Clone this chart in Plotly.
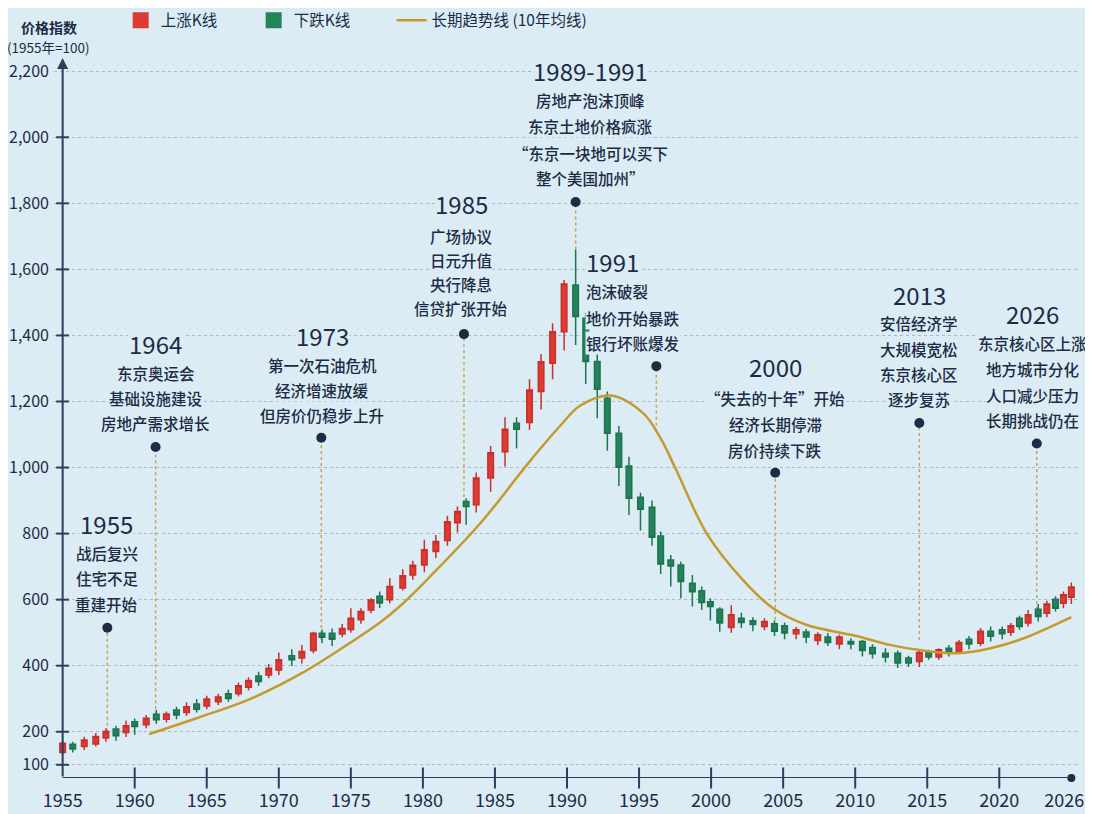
import plotly.graph_objects as go

# Candle data (price index, 1955 = 100)
years = [1955.0, 1955.7, 1956.5, 1957.3, 1958.0, 1958.7, 1959.4, 1960.0, 1960.8, 1961.5,
         1962.2, 1962.9, 1963.6, 1964.3, 1965.0, 1965.8, 1966.5, 1967.2, 1967.9, 1968.6,
         1969.3, 1970.0, 1970.9, 1971.6, 1972.4, 1973.0, 1973.7, 1974.4, 1975.0, 1975.7,
         1976.4, 1977.0, 1977.7, 1978.6, 1979.3, 1980.1, 1980.9, 1981.7, 1982.4, 1983.0,
         1983.7, 1984.7, 1985.7, 1986.5, 1987.4, 1988.2, 1989.0, 1989.8, 1990.6, 1991.3,
         1992.1, 1992.8, 1993.6, 1994.3, 1995.1, 1995.9, 1996.5, 1997.2, 1997.9, 1998.7,
         1999.35, 1999.95, 2000.6, 2001.4, 2002.1, 2002.9, 2003.7, 2004.4, 2005.1, 2005.9,
         2006.6, 2007.4, 2008.1, 2008.9, 2009.7, 2010.5, 2011.2, 2012.1, 2012.95, 2013.7,
         2014.45, 2015.1, 2015.8, 2016.5, 2017.2, 2017.9, 2018.7, 2019.4, 2020.2, 2020.8,
         2021.4, 2022.0, 2022.7, 2023.3, 2023.9, 2024.45, 2025.0]
opens = [137, 162, 155, 163, 181, 208, 198, 230, 221, 253,
         238, 266, 258, 284, 278, 291, 315, 315, 335, 369,
         372, 387, 430, 423, 446, 498, 498, 496, 510, 539,
         569, 610, 600, 635, 675, 705, 746, 779, 833, 897,
         887, 968, 1048, 1134, 1136, 1230, 1316, 1411, 1553, 1452,
         1321, 1210, 1104, 1005, 910, 880, 793, 720, 705, 650,
         627, 594, 571, 516, 544, 536, 519, 527, 521, 497,
         502, 476, 487, 466, 473, 473, 455, 438, 438, 423,
         413, 440, 426, 453, 443, 480, 468, 504, 509, 501,
         544, 529, 571, 559, 601, 589, 607]
highs = [175, 170, 185, 196, 211, 218, 234, 240, 251, 266,
         261, 276, 289, 299, 309, 315, 327, 349, 365, 382,
         405, 440, 450, 463, 503, 510, 513, 526, 574, 574,
         604, 625, 665, 692, 718, 781, 796, 854, 882, 907,
         985, 1065, 1152, 1152, 1267, 1344, 1437, 1568, 1660, 1469,
         1346, 1230, 1126, 1033, 924, 900, 806, 735, 715, 675,
         640, 604, 577, 583, 560, 547, 544, 537, 531, 517,
         511, 501, 499, 494, 483, 478, 465, 453, 446, 430,
         448, 448, 453, 463, 478, 490, 514, 519, 519, 529,
         551, 569, 587, 597, 610, 625, 652]
lows = [133, 137, 145, 155, 170, 173, 184, 191, 211, 224,
        228, 238, 248, 258, 268, 281, 291, 307, 325, 339,
        362, 372, 399, 407, 438, 468, 460, 486, 500, 527,
        559, 575, 589, 628, 660, 683, 725, 763, 803, 827,
        864, 927, 1003, 1058, 1114, 1176, 1267, 1354, 1371, 1253,
        1149, 1051, 944, 856, 809, 763, 678, 640, 604, 579,
        569, 537, 503, 500, 514, 504, 507, 490, 480, 480,
        468, 462, 460, 450, 450, 428, 422, 410, 393, 396,
        396, 418, 418, 428, 436, 450, 460, 473, 480, 490,
        509, 519, 534, 547, 564, 574, 587]
closes = [165, 148, 175, 186, 201, 188, 218, 216, 241, 236,
          254, 251, 276, 268, 299, 305, 301, 339, 355, 352,
          392, 418, 418, 443, 498, 486, 480, 513, 544, 564,
          599, 590, 640, 672, 704, 751, 776, 836, 867, 882,
          968, 1045, 1116, 1116, 1235, 1320, 1411, 1556, 1457, 1321,
          1237, 1104, 1001, 907, 874, 789, 708, 702, 655, 624,
          591, 579, 529, 554, 531, 525, 534, 504, 499, 509,
          487, 494, 470, 487, 466, 446, 436, 426, 408, 408,
          440, 426, 448, 440, 470, 466, 504, 489, 497, 521,
          519, 554, 549, 587, 574, 615, 638]

# Long-term trend line (10-year average)
trend_years = [1961.0, 1964.5, 1968.0, 1971.5, 1974.9, 1977.0, 1978.4, 1980.5, 1984.0,
               1987.4, 1989.5, 1990.9, 1993.0, 1995.3, 1996.5, 1997.5, 1999.7, 2002.2,
               2004.3, 2006.6, 2010.1, 2012.4, 2014.7, 2017.1, 2019.4, 2021.7, 2025.0]
trend_values = [193, 244, 299, 375, 468, 530, 580, 670, 832,
                1018, 1125, 1187, 1218, 1164, 1088, 1000, 800, 660,
                574, 524, 490, 463, 446, 438, 453, 483, 547]

y_ticks = [100, 200, 400, 600, 800, 1000, 1200, 1400, 1600, 1800, 2000, 2200]
y_tick_labels = ["100", "200", "400", "600", "800", "1,000", "1,200", "1,400",
                 "1,600", "1,800", "2,000", "2,200"]
x_ticks = [1955, 1960, 1965, 1970, 1975, 1980, 1985, 1990, 1995, 2000, 2005, 2010, 2015, 2020]
x_tick_labels = ["1955", "1960", "1965", "1970", "1975", "1980", "1985", "1990", "1995",
                 "2000", "2005", "2010", "2015", "2020"]
x_end = 2025          # axis ends with a dot here
x_end_label = "2026"  # label the picture puts next to that dot
x_end_label_at = 2024.5

# Event callouts
event_titles = ["1955", "1964", "1973", "1985", "1989-1991", "1991", "2000", "2013", "2026"]
event_notes = [
    ["战后复兴", "住宅不足", "重建开始"],
    ["东京奥运会", "基础设施建设", "房地产需求增长"],
    ["第一次石油危机", "经济增速放缓", "但房价仍稳步上升"],
    ["广场协议", "日元升值", "央行降息", "信贷扩张开始"],
    ["房地产泡沫顶峰", "东京土地价格疯涨", "“东京一块地可以买下", "整个美国加州”"],
    ["泡沫破裂", "地价开始暴跌", "银行坏账爆发"],
    ["“失去的十年”开始", "经济长期停滞", "房价持续下跌"],
    ["安倍经济学", "大规模宽松", "东京核心区", "逐步复苏"],
    ["东京核心区上涨", "地方城市分化", "人口减少压力", "长期挑战仍在"],
]
event_dot_x = [1958.1, 1961.45, 1972.95, 1982.85, 1990.6, 1996.2, 2004.45, 2014.45, 2022.6]
event_dot_y = [515, 1062, 1090, 1404, 1804, 1307, 984, 1135, 1073]
event_base_y = [200, 232, 478, 893, 1660, 1108, 539, 478, 569]
event_text_x = [1958.05, 1961.45, 1973.0, 1982.65, 1991.6, 1991.25, 2004.45, 2014.45, 2022.3]
event_anchor = ["center", "center", "center", "center", "center", "left", "center", "center", "center"]
event_title_y = [831, 1377, 1401, 1798, 2203, 1625, 1307, 1525, 1465]
event_note_y = [
    [741, 665, 587],
    [1286, 1211, 1135],
    [1310, 1235, 1159],
    [1701, 1628, 1556, 1483],
    [2112, 2034, 1952, 1876],
    [1534, 1454, 1378],
    [1211, 1132, 1053],
    [1437, 1359, 1283, 1208],
    [1377, 1298, 1220, 1144],
]

BG = "#dbecf5"
NAVY = "#1d2b45"
AXIS = "#2d3e5a"
RED = "#dc3a32"
GREEN = "#23845a"
GOLD = "#c49a2e"
FONT = "Noto Sans CJK SC"

fig = go.Figure()

# Candles
fig.add_trace(go.Candlestick(
    x=years, open=opens, high=highs, low=lows, close=closes,
    increasing=dict(line=dict(color="#c8302b", width=1.5), fillcolor=RED),
    decreasing=dict(line=dict(color="#1c7550", width=1.5), fillcolor=GREEN),
    whiskerwidth=0, showlegend=False, hoverinfo="skip"))

# Legend entries for the candle colours
fig.add_trace(go.Scatter(x=[None], y=[None], mode="markers", name="上涨K线",
                         marker=dict(symbol="square", size=16, color=RED)))
fig.add_trace(go.Scatter(x=[None], y=[None], mode="markers", name="下跌K线",
                         marker=dict(symbol="square", size=16, color=GREEN)))

# Trend line (own legend so it can sit further right)
fig.add_trace(go.Scatter(x=trend_years, y=trend_values, mode="lines", legend="legend2",
                         name="长期趋势线 (10年均线)",
                         line=dict(color=GOLD, width=2.5, shape="spline", smoothing=1.0)))

# Event dots + dotted leader lines
fig.add_trace(go.Scatter(x=event_dot_x, y=event_dot_y, mode="markers", showlegend=False,
                         marker=dict(color=NAVY, size=10), cliponaxis=False, hoverinfo="skip"))
for ex, ey, eb in zip(event_dot_x, event_dot_y, event_base_y):
    fig.add_shape(type="line", x0=ex, x1=ex, y0=eb, y1=ey, layer="below",
                  line=dict(color="#c9a552", width=1.5, dash="dot"))

# Event texts
for i, title in enumerate(event_titles):
    fig.add_annotation(x=event_text_x[i], y=event_title_y[i], text=title, showarrow=False,
                       xanchor=event_anchor[i], yanchor="middle", bgcolor=BG, borderpad=0,
                       font=dict(family=FONT, size=24, color=NAVY))
    for note, ny in zip(event_notes[i], event_note_y[i]):
        fig.add_annotation(x=event_text_x[i], y=ny, text=note, showarrow=False,
                           xanchor=event_anchor[i], yanchor="middle", bgcolor=BG, borderpad=0,
                           font=dict(family=FONT, size=15.5, color=NAVY, weight=500))

# Axes drawn by hand: y axis with arrow, x axis with end dot
fig.add_annotation(x=1955, y=2240, ax=1955, ay=60, xref="x", yref="y", axref="x", ayref="y",
                   text="", showarrow=True, arrowhead=2, arrowsize=1.1, arrowwidth=2,
                   arrowcolor=AXIS)
for v in y_ticks[:-1]:
    fig.add_shape(type="line", x0=1954.55, x1=1955.45, y0=v, y1=v,
                  line=dict(color=AXIS, width=2))
fig.add_shape(type="line", x0=1955, x1=x_end, y0=60, y1=60, line=dict(color=AXIS, width=2))
# tick marks that cross the x axis
fig.add_trace(go.Scatter(x=x_ticks[1:], y=[60] * len(x_ticks[1:]), mode="markers",
                         showlegend=False, cliponaxis=False, hoverinfo="skip",
                         marker=dict(symbol="line-ns", size=15, line=dict(color=AXIS, width=2))))
fig.add_trace(go.Scatter(x=[x_end], y=[60], mode="markers", showlegend=False, cliponaxis=False,
                         marker=dict(color=NAVY, size=8), hoverinfo="skip"))

# Y axis title
fig.add_annotation(xref="paper", yref="paper", x=-0.005, y=1.06, xanchor="center",
                   text="<b>价格指数</b>", showarrow=False,
                   font=dict(family=FONT, size=14, color=NAVY))
fig.add_annotation(xref="paper", yref="paper", x=-0.005, y=1.032, xanchor="center",
                   text="(1955年=100)", showarrow=False,
                   font=dict(family=FONT, size=13.5, color=NAVY))

# The page puts the plot 8px in from the corner, so the figure is 8px smaller
fig.update_layout(
    width=1085, height=806,
    margin=dict(l=46, r=13, t=50, b=36, autoexpand=False),
    paper_bgcolor=BG, plot_bgcolor=BG,
    font=dict(family=FONT, color=NAVY),
    boxgap=0.0,
    showlegend=True,
    legend=dict(orientation="h", x=0.065, y=1.052, xanchor="left", yanchor="middle",
                font=dict(size=15.5, color=NAVY), bgcolor="rgba(0,0,0,0)",
                entrywidth=88),
    legend2=dict(orientation="h", x=0.329, y=1.052, xanchor="left", yanchor="middle",
                 font=dict(size=15.5, color=NAVY), bgcolor="rgba(0,0,0,0)"),
    xaxis=dict(range=[1954.4, 2025.6], tickvals=x_ticks + [x_end_label_at],
               ticktext=x_tick_labels + [x_end_label],
               showgrid=False, zeroline=False, showline=False, rangeslider=dict(visible=False),
               ticks="", ticklabelstandoff=10, tickfont=dict(size=18, color=NAVY)),
    yaxis=dict(range=[60, 2240], tickvals=y_ticks, ticktext=y_tick_labels,
               showgrid=True, gridcolor="#a9b9c6", griddash="dot", gridwidth=1,
               zeroline=False, showline=False, ticks="", ticklabelstandoff=4,
               tickfont=dict(size=16, color=NAVY)),
)

fig.write_html("out.html")
